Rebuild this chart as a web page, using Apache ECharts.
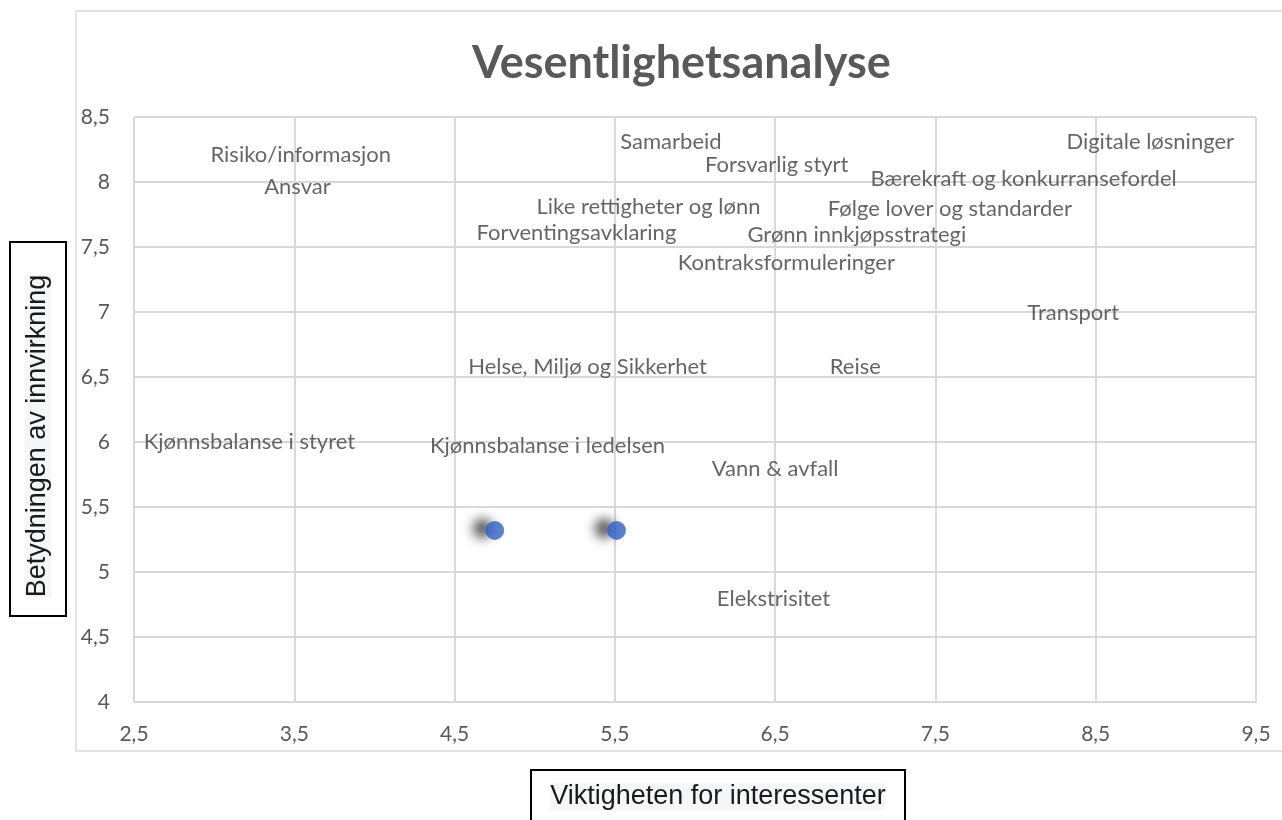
<!DOCTYPE html>
<html>
<head>
<meta charset="utf-8">
<title>Vesentlighetsanalyse</title>
<script src="https://cdn.jsdelivr.net/npm/echarts@6/dist/echarts.min.js"></script>
<style>
  html, body { margin: 0; padding: 0; background: #fff; }
  #chart { width: 1282px; height: 820px; }
</style>
</head>
<body>
<div id="chart"></div>
<script>
// tema-navn og plassering (viktighet, betydning)
var temaNavn = [
  'Risiko/informasjon', 'Ansvar', 'Samarbeid', 'Forsvarlig styrt', 'Digitale løsninger',
  'Bærekraft og konkurransefordel', 'Følge lover og standarder', 'Like rettigheter og lønn',
  'Forventingsavklaring', 'Grønn innkjøpsstrategi', 'Kontraksformuleringer', 'Transport',
  'Helse, Miljø og Sikkerhet', 'Reise', 'Kjønnsbalanse i styret', 'Kjønnsbalanse i ledelsen',
  'Vann & avfall', 'Elekstrisitet'
];
var temaX = [3.54, 3.52, 5.85, 6.51, 8.84, 8.05, 7.59, 5.71, 5.26, 7.01, 6.57, 8.36, 5.33, 7.00, 3.22, 5.08, 6.50, 6.49];
var temaY = [8.21, 7.96, 8.31, 8.13, 8.31, 8.02, 7.79, 7.81, 7.61, 7.59, 7.38, 6.99, 6.58, 6.58, 6.00, 5.97, 5.79, 4.79];

// synlige punkter
var punktX = [4.75, 5.51];
var punktY = [5.32, 5.32];

// akser
var xMin = 2.5, xMax = 9.5, xStep = 1;
var yMin = 4, yMax = 8.5, yStep = 0.5;

var chart = echarts.init(document.getElementById('chart'));

var temaData = [];
for (var i = 0; i < temaNavn.length; i++) {
  temaData.push({ name: temaNavn[i], value: [temaX[i], temaY[i]] });
}
var punktData = [];
for (var j = 0; j < punktX.length; j++) {
  punktData.push([punktX[j], punktY[j]]);
}

function komma(v) {
  return String(v).replace('.', ',');
}

chart.setOption({
  animation: false,
  title: {
    text: 'Vesentlighetsanalyse',
    left: 467,
    top: 36,
    textStyle: {
      fontFamily: 'Lato',
      fontWeight: 'bold',
      fontSize: 45,
      color: '#595959'
    }
  },
  graphic: [
    { // ramme rundt diagrammet
      type: 'rect',
      shape: { x: 76, y: 11, width: 1300, height: 740 },
      style: { fill: 'none', stroke: '#d9d9d9', lineWidth: 1.5 },
      z: -1
    },
    { // y-aksetittel
      type: 'rect',
      shape: { x: 10, y: 242, width: 56, height: 374 },
      style: { fill: '#fff', stroke: '#000', lineWidth: 2 }
    },
    {
      type: 'text',
      x: 38, y: 436,
      rotation: Math.PI / 2,
      style: {
        text: 'Betydningen av innvirkning',
        fontFamily: 'Liberation Sans',
        fontSize: 27,
        fill: '#1a1a1a',
        align: 'center',
        verticalAlign: 'middle',
        backgroundColor: '#f5f6f8'
      }
    },
    { // x-aksetittel
      type: 'rect',
      shape: { x: 531, y: 770, width: 374, height: 56 },
      style: { fill: '#fff', stroke: '#000', lineWidth: 2 }
    },
    {
      type: 'text',
      x: 718, y: 797,
      style: {
        text: 'Viktigheten for interessenter',
        fontFamily: 'Liberation Sans',
        fontSize: 27,
        fill: '#1a1a1a',
        align: 'center',
        verticalAlign: 'middle',
        backgroundColor: '#f5f6f8'
      }
    }
  ],
  grid: { left: 134, right: 26, top: 117, bottom: 118 },
  xAxis: {
    type: 'value',
    min: xMin, max: xMax, interval: xStep,
    axisLine: { show: true, lineStyle: { color: '#d9d9d9', width: 2 } },
    axisTick: { show: false },
    splitLine: { show: true, lineStyle: { color: '#d9d9d9', width: 2 } },
    axisLabel: {
      formatter: komma, margin: 22,
      fontFamily: 'Lato', fontSize: 21, color: '#595959',
      showMinLabel: true, showMaxLabel: true
    }
  },
  yAxis: {
    type: 'value',
    min: yMin, max: yMax, interval: yStep,
    axisLine: { show: false },
    axisTick: { show: false },
    splitLine: { show: true, lineStyle: { color: '#d9d9d9', width: 2 } },
    axisLabel: {
      formatter: komma, margin: 24,
      fontFamily: 'Lato', fontSize: 21, color: '#595959'
    }
  },
  series: [{
    name: 'Tema',
    type: 'scatter',
    symbolSize: 0,
    data: temaData,
    label: {
      show: true,
      position: 'inside',
      formatter: '{b}',
      fontFamily: 'Lato',
      fontSize: 22,
      color: '#3f3f3f'
    },
    z: 3
  }, {
    name: 'Punkt',
    type: 'scatter',
    symbolSize: 19,
    data: punktData,
    itemStyle: {
      color: '#2f62c4',
      shadowColor: 'rgba(0,0,0,0.9)',
      shadowBlur: 12,
      shadowOffsetX: -12,
      shadowOffsetY: -2
    },
    z: 4
  }]
});
</script>
</body>
</html>
